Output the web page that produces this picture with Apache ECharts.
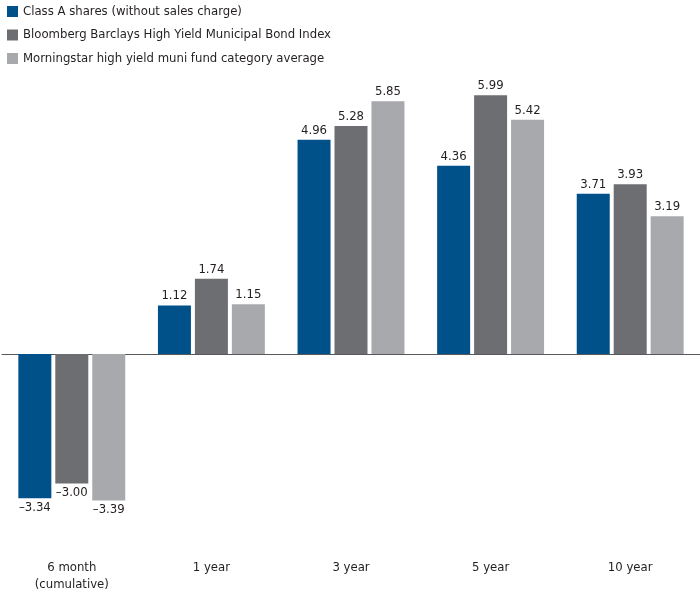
<!DOCTYPE html>
<html><head><meta charset="utf-8">
<script src="https://cdn.jsdelivr.net/npm/echarts@6/dist/echarts.min.js"></script>
<style>html,body{margin:0;padding:0;background:#fff}#c{width:700px;height:593px}</style>
</head><body><div id="c"></div>
<script>
const categories = ['6 month\n(cumulative)', '1 year', '3 year', '5 year', '10 year'];
const seriesNames = ['Class A shares (without sales charge)', 'Bloomberg Barclays High Yield Municipal Bond Index', 'Morningstar high yield muni fund category average'];
const classA = [-3.34, 1.12, 4.96, 4.36, 3.71];
const bloomberg = [-3.00, 1.74, 5.28, 5.99, 3.93];
const morningstar = [-3.39, 1.15, 5.85, 5.42, 3.19];
const colors = ['#00508a', '#6d6e71', '#a7a9ac'];
const FONT = '"DejaVu Sans Condensed", "Liberation Sans Narrow", "Noto Sans", sans-serif';

const chart = echarts.init(document.getElementById('c'));
function mk(name, data, color) {
  return {
    name, type: 'bar', barWidth: 33, barGap: '12%',
    itemStyle: { color },
    label: {
      show: true, distance: 3,
      color: '#231f20', fontSize: 13, fontFamily: FONT,
      formatter: p => (p.value < 0 ? '\u2013' + Math.abs(p.value).toFixed(2) : p.value.toFixed(2))
    },
    data: data.map(v => ({ value: v, label: { position: v < 0 ? 'bottom' : 'top' } }))
  };
}
chart.setOption({
  animation: false,
  color: colors,
  legend: {
    orient: 'vertical', left: 2, top: 0, itemWidth: 11, itemHeight: 11, itemGap: 10.5,
    icon: 'rect',
    textStyle: { fontSize: 13, fontFamily: FONT, color: '#231f20' },
    data: seriesNames
  },
  grid: { left: 2, width: 700, top: 51.6, height: 475.2 },
  xAxis: [
    { type: 'category', data: categories, axisLine: { onZero: true, lineStyle: { color: '#58595b', width: 1 } },
      axisTick: { show: false }, axisLabel: { show: false } },
    { type: 'category', data: categories, position: 'bottom', axisLine: { show: false, onZero: false },
      axisTick: { show: false },
      axisLabel: { fontSize: 13, fontFamily: FONT, color: '#231f20', margin: 32, lineHeight: 17 } }
  ],
  yAxis: { type: 'value', min: -4, max: 7, show: false, splitLine: { show: false } },
  series: [mk(seriesNames[0], classA, colors[0]), mk(seriesNames[1], bloomberg, colors[1]), mk(seriesNames[2], morningstar, colors[2])]
});
</script></body></html>
